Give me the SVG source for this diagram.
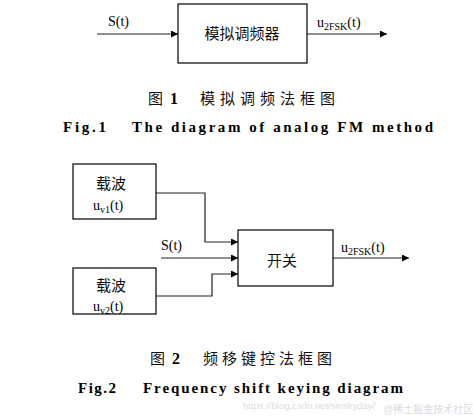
<svg xmlns="http://www.w3.org/2000/svg" width="473" height="416" viewBox="0 0 473 416">
<style>
.box{fill:#fff;stroke:#000;stroke-width:1.2}
.ln{fill:none;stroke:#222;stroke-width:1.2}
.t{font-family:"Liberation Serif","Noto Sans CJK SC",serif;fill:#000}
.cn{font-family:"Noto Sans CJK SC","Liberation Serif",serif;fill:#111}
.cap{font-family:"Noto Sans CJK SC","Liberation Serif",serif;fill:#111;font-size:15px}
.num{font-family:"Liberation Serif",serif;font-weight:bold;font-size:16px;fill:#000}
.en{font-family:"Liberation Serif",serif;font-weight:bold;font-size:15px;fill:#000}
.wm{font-family:"Liberation Sans","Noto Sans CJK SC",sans-serif;fill:#dcdcdc}
</style>
<defs>
<marker id="ah" viewBox="0 0 10 10" refX="10" refY="5" markerWidth="8" markerHeight="7" markerUnits="userSpaceOnUse" orient="auto">
<path d="M0,0 L10,5 L0,10 z" fill="#000"/>
</marker>
</defs>
<rect width="473" height="416" fill="#fff"/>

<g id="connectors">
<line class="ln" x1="97" y1="34" x2="178" y2="34" marker-end="url(#ah)"/>
<line class="ln" x1="307" y1="34" x2="387" y2="34" marker-end="url(#ah)"/>
<polyline class="ln" points="156,193 205,193 205,242 238,242" marker-end="url(#ah)"/>
<line class="ln" x1="161" y1="258" x2="238" y2="258" marker-end="url(#ah)"/>
<polyline class="ln" points="156,296 212,296 212,274 238,274" marker-end="url(#ah)"/>
<line class="ln" x1="333" y1="258" x2="409" y2="258" marker-end="url(#ah)"/>
</g>

<g id="fm">
<rect class="box" x="178" y="4" width="129" height="59"/>
<text class="cn" x="242" y="39" font-size="15" text-anchor="middle">模拟调频器</text>
</g>
<g id="fm-labels">
<text class="t" x="108" y="26" font-size="14">S(t)</text>
<text class="t" x="317" y="27" font-size="14">u<tspan font-size="10" dy="3">2FSK</tspan><tspan dy="-3">(t)</tspan></text>
</g>

<g id="carrier1">
<rect class="box" x="73" y="164" width="83" height="55"/>
<text class="cn" x="111" y="189" font-size="15" text-anchor="middle">载波</text>
<text class="t" x="93" y="210" font-size="14">u<tspan font-size="10" dy="3">v1</tspan><tspan dy="-3">(t)</tspan></text>
</g>
<g id="carrier2">
<rect class="box" x="73" y="268" width="83" height="46"/>
<text class="cn" x="111" y="291" font-size="15" text-anchor="middle">载波</text>
<text class="t" x="93" y="311" font-size="14">u<tspan font-size="10" dy="3">v2</tspan><tspan dy="-3">(t)</tspan></text>
</g>
<g id="switch">
<rect class="box" x="238" y="230" width="95" height="56"/>
<text class="cn" x="282" y="266" font-size="15" text-anchor="middle">开关</text>
</g>
<g id="fsk-labels">
<text class="t" x="161" y="250" font-size="14">S(t)</text>
<text class="t" x="341" y="252" font-size="14">u<tspan font-size="10" dy="3">2FSK</tspan><tspan dy="-3">(t)</tspan></text>
</g>

<g id="captions">
<text class="cap" x="148" y="104">图</text>
<text class="num" x="170" y="104">1</text>
<text class="cap" x="200" y="104" letter-spacing="5">模拟调频法框图</text>
<text class="en" x="63" y="132" textLength="43" lengthAdjust="spacing">Fig.1</text>
<text class="en" x="132" y="132" textLength="301" lengthAdjust="spacing">The diagram of analog FM method</text>
<text class="cap" x="150" y="364">图</text>
<text class="num" x="172" y="364">2</text>
<text class="cap" x="203" y="364" letter-spacing="4">频移键控法框图</text>
<text class="en" x="78" y="393" textLength="38" lengthAdjust="spacing">Fig.2</text>
<text class="en" x="143" y="393" textLength="260" lengthAdjust="spacing">Frequency shift keying diagram</text>
</g>

<g id="watermark">
<text class="wm" x="243" y="409" font-size="9.5">https://blog.csdn.net/sinskyday/</text>
<text class="wm" x="383" y="413" font-size="10" fill="#bbb">@稀土掘金技术社区</text>
</g>
</svg>
